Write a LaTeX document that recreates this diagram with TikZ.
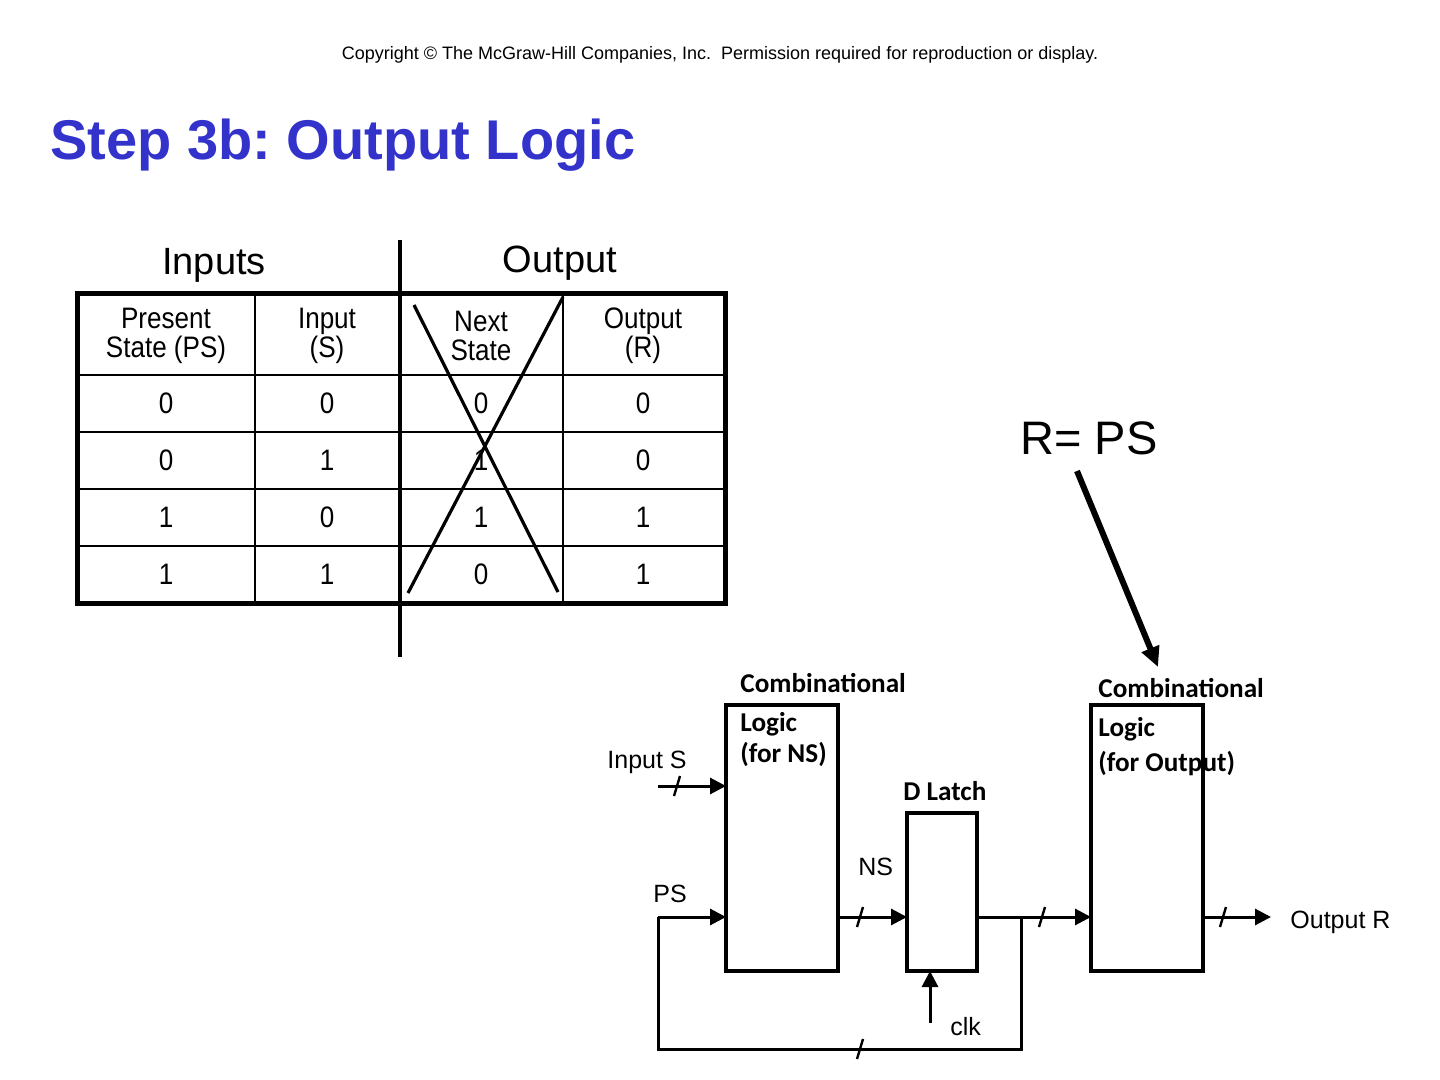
\documentclass[tikz,border=0pt]{standalone}
\usepackage{fontspec}
\setmainfont{Liberation Sans}
\newfontfamily\calfont{Carlito}
\newfontfamily\tabfont{Liberation Sans}[FakeStretch=0.88]
\usetikzlibrary{arrows.meta,calc}
\definecolor{titleblue}{RGB}{51,51,204}
\frenchspacing
\tikzset{
  cell/.style={font=\tabfont\fontsize{14.8}{14.5}\selectfont, align=center, inner sep=0pt},
  lbl/.style={inner sep=0pt, anchor=base west},
  callbl/.style={lbl, font=\calfont\bfseries\fontsize{13.6}{15}\selectfont},
  arlbl/.style={lbl, font=\fontsize{12.5}{14}\selectfont},
  blk/.style={draw, line width=1.75pt, minimum width=56pt, minimum height=133pt, inner sep=0pt, outer sep=0pt, anchor=north west},
  wire/.style={line width=1.5pt},
  arr/.style={wire, -{Triangle[length=8pt,width=8pt]}},
  bigarr/.style={line width=3pt, -{Triangle[length=10pt,width=9pt]}},
  slashmark/.pic={\draw[line width=1.2pt] (-3,10) -- (3,-10);}
}
\begin{document}
\begin{tikzpicture}[x=0.5pt,y=-0.5pt]
\useasboundingbox[fill=white] (0,0) rectangle (1440,1080);

% header texts
\node[inner sep=0pt, anchor=base, font=\fontsize{9}{10}\selectfont] (copy) at (720,60)
  {Copyright \textcopyright{} The McGraw-Hill Companies, Inc.\ \ Permission required for reproduction or display.};
\node[lbl, font=\bfseries\fontsize{28}{32}\selectfont, text=titleblue] (title) at (50,160) {Step 3b: Output Logic};

% table labels
\node[inner sep=0pt, anchor=base, font=\fontsize{19}{22}\selectfont] (inputs) at (214,275) {Inputs};
\node[inner sep=0pt, anchor=base, font=\fontsize{19}{22}\selectfont] (output) at (560,273) {Output};

% table grid
\draw[line width=1.3pt] (77,375) -- (725,375) (77,432) -- (725,432) (77,489) -- (725,489) (77,546) -- (725,546);
\draw[line width=1.3pt] (255,294) -- (255,603) (563,294) -- (563,603);
\draw[line width=2.5pt] (77,294) rectangle (725,603);
\draw[line width=2pt] (400,240) -- (400,657);

% table contents
\node[cell] (h1) at (166,336) {Present\\State (PS)};
\node[cell] (h2) at (327,336) {Input\\(S)};
\node[cell] (h3) at (481,336) {Next\\State};
\node[cell] (h4) at (643,336) {Output\\(R)};
\foreach \y/\a/\b/\c/\d [count=\i] in {403/0/0/0/0, 460/0/1/1/0, 517/1/0/1/1, 574/1/1/0/1}{
  \node[cell] (r\i a) at (166,\y) {\a};
  \node[cell] (r\i b) at (327,\y) {\b};
  \node[cell] (r\i c) at (481,\y) {\c};
  \node[cell] (r\i d) at (643,\y) {\d};
}
% cross-out
\draw[line width=1.6pt] (414,305) -- (558,592);
\draw[line width=1.6pt] (563,297) -- (408,593);

% R = PS
\node[lbl, font=\fontsize{23.5}{26}\selectfont] (rps) at (1020,455) {R= PS};
\coordinate (rs) at (1077,471);
\coordinate (rt) at (1158,667);
\draw[bigarr] (rs) -- (rt);

% circuit blocks
\node[blk] (cl1) at (726,705) {};
\node[blk, minimum width=35pt, minimum height=79pt] (dl) at (907,813) {};
\node[blk] (cl2) at (1091,705) {};

\node[callbl] (c1a) at (740,692) {Combinational};
\node[callbl] (c1b) at (740,731) {Logic};
\node[callbl] (c1c) at (740,762) {(for NS)};
\node[callbl] (dlt) at (903,800) {D Latch};
\node[callbl] (c2a) at (1098,697) {Combinational};
\node[callbl] (c2b) at (1098,736) {Logic};
\node[callbl] (c2c) at (1098,771) {(for Output)};

\node[arlbl] (ins) at (607,768) {Input S};
\node[arlbl] (psl) at (653,902) {PS};
\node[arlbl] (nsl) at (858,875) {NS};
\node[arlbl] (clkl) at (950,1035) {clk};
\node[arlbl] (outr) at (1290,928) {Output R};

% wires
\coordinate (sin) at (658,786);
\coordinate (ps) at (658,917);
\coordinate (j) at (1021,917);
\coordinate (fb) at (658,1049);
\coordinate (clk) at (930,1023);
\coordinate (oend) at (1271,917);

\draw[arr] (sin) -- (sin -| cl1.west);
\draw[arr] (ps) -- (ps -| cl1.west);
\draw[arr] (cl1.east |- ps) -- (dl.west |- ps);
\draw[arr] (dl.east |- ps) -- (cl2.west |- ps);
\draw[wire] (j) |- (fb) -- (ps);
\draw[arr] (clk) -- (clk |- dl.south);
\draw[arr] (cl2.east |- ps) -- (oend);

% bus slashes
\pic at (677,786) {slashmark};
\pic at (860,917) {slashmark};
\pic at (860,1049) {slashmark};
\pic at (1042,917) {slashmark};
\pic at (1223,917) {slashmark};
\end{tikzpicture}
\end{document}
